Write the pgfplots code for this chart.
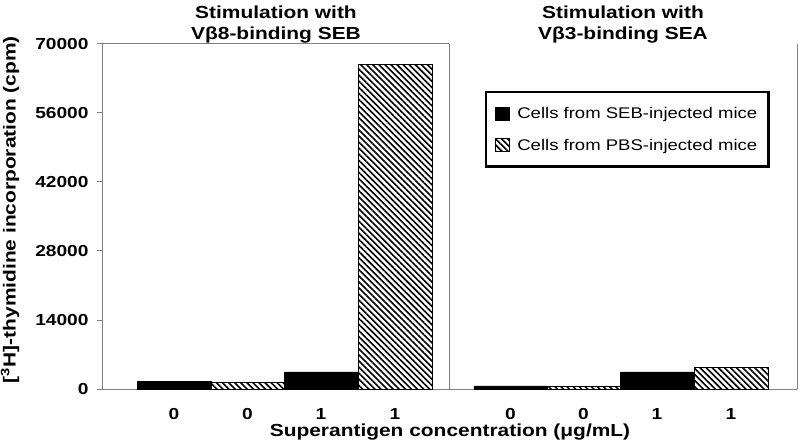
\documentclass[border=0pt]{standalone}
\usepackage{fontspec}
\setmainfont{Liberation Sans}[FakeStretch=1.2]
\usepackage{pgfplots}
\pgfplotsset{compat=1.18}
\usetikzlibrary{patterns.meta}
\definecolor{axgray}{RGB}{128,128,128}
\begin{document}
\begin{tikzpicture}
\useasboundingbox (-103bp,-57bp) rectangle (697bp,389bp);
\begin{axis}[
  at={(0,0)}, anchor=south west,
  scale only axis, width=694bp, height=345bp,
  xmin=0, xmax=694, ymin=0, ymax=70000,
  clip=false,
  axis x line*=bottom, axis y line*=left,
  axis line style={draw=axgray, line width=1bp},
  ytick={0,14000,28000,42000,56000,70000},
  scaled y ticks=false,
  /pgf/number format/assume math mode=true,
  /pgf/number format/1000 sep={},
  yticklabel style={font=\bfseries\fontsize{16}{16}\selectfont, xshift=-5bp},
  xtick={71,144.5,218,292,407.5,480.5,554,628},
  xticklabels={0,0,1,1,0,0,1,1},
  xticklabel style={font=\bfseries\fontsize{16}{16}\selectfont, yshift=-10bp},
  x tick style={draw=none},
  y tick style={draw=axgray, line width=1bp},
  tick align=outside, major tick length=6bp,
  ybar, bar width=73.5,
  xlabel={Superantigen concentration (μg/mL)},
  xlabel style={font=\bfseries\fontsize{17.5}{20}\selectfont, at={(axis description cs:0.5,-0.125)}, anchor=center},
  ylabel={{}[\textsuperscript{3}H]-thymidine incorporation (cpm)},
  ylabel style={font=\bfseries\fontsize{17.5}{20}\selectfont, at={(axis description cs:-0.134,0.52)}, anchor=center},
  legend image code/.code={\draw[#1, line width=0.4pt] (0bp,-6.5bp) rectangle (14bp,6.5bp);},
  legend cell align=left,
  legend style={at={(0.55,0.864)}, anchor=north west, draw=black, line width=2.5bp,
    font=\fontsize{15.5}{18}\selectfont, inner xsep=9bp, inner ysep=13bp, row sep=15bp, column sep=6bp},
]
\addplot[fill=black, draw=black, bar shift=0pt] coordinates {(71,1550) (218,3450) (407.5,650) (554,3450)};
\addplot[draw=black, pattern={Lines[angle=-45,distance=4.3bp,line width=1.6bp]}, bar shift=0pt] coordinates {(144.5,1350) (292,65900) (480.5,600) (628,4400)};
\legend{Cells from SEB-injected mice\hspace{22bp}, Cells from PBS-injected mice\hspace{22bp}}
\draw[axgray, line width=1bp] (axis cs:346,0) -- (axis cs:346,70000);
\draw[axgray, line width=1bp] (axis cs:0,70000) -- (axis cs:346,70000);
\draw[axgray, line width=1bp] (axis cs:694,0) -- (axis cs:694,70000);
\node[font=\bfseries\fontsize{17.5}{21}\selectfont, align=center, anchor=south, inner sep=1bp] at (axis cs:173,70000) {Stimulation with\\Vβ8-binding SEB};
\node[font=\bfseries\fontsize{17.5}{21}\selectfont, align=center, anchor=south, inner sep=1bp] at (axis cs:520,70000) {Stimulation with\\Vβ3-binding SEA};
\end{axis}
\end{tikzpicture}
\end{document}
